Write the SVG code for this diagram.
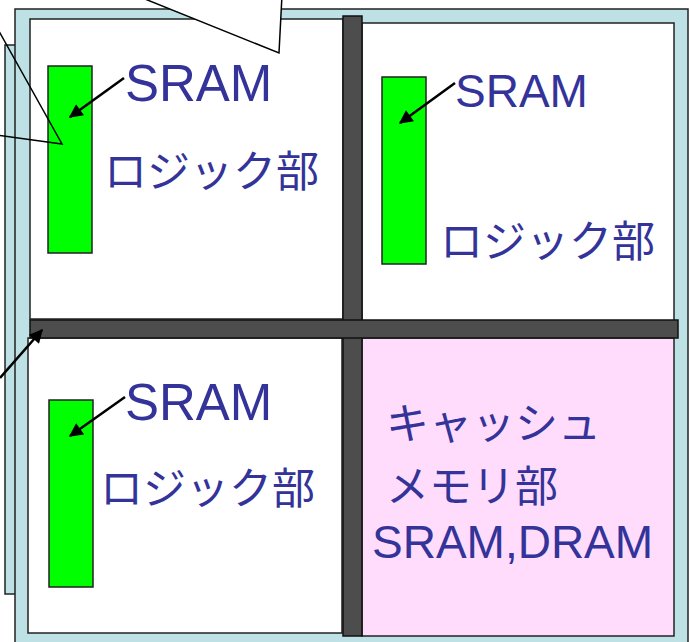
<svg xmlns="http://www.w3.org/2000/svg" width="690" height="642" viewBox="0 0 690 642">
<defs>
<style>
.chip{fill:#BDE1E4;stroke:#222;stroke-width:1.5}
.panel{fill:#FFFFFF;stroke:#222;stroke-width:1.5}
.pink{fill:#FFDCFC;stroke:#222;stroke-width:1.5}
.bar{fill:#4D4D4D;stroke:#111;stroke-width:1.5}
.sram{fill:#00FF00;stroke:#222;stroke-width:1.5}
.lbl{fill:#333399;font-family:"Liberation Sans","Noto Sans CJK JP",sans-serif}
.jp{fill:#333399;font-family:"Noto Sans CJK JP","Liberation Sans",sans-serif;font-size:43px}
.arr{stroke:#000;stroke-width:2.5;fill:none;marker-end:url(#ah)}
.call{stroke:#000;stroke-width:1.5;fill:none}
</style>
<marker id="ah" viewBox="0 0 10 10" refX="9" refY="5" markerWidth="6" markerHeight="5.5" orient="auto" markerUnits="strokeWidth">
<path d="M0,0 L10,5 L0,10 z" fill="#000"/>
</marker>
</defs>
<rect width="690" height="642" fill="#FFFFFF"/>
<g id="back-chip"><rect class="chip" x="5" y="45" width="20" height="549"/></g>
<g id="chip"><rect class="chip" x="15" y="9" width="673" height="645"/></g>
<g id="panel-tl"><rect class="panel" x="30" y="19" width="313" height="300"/></g>
<g id="panel-tr"><rect class="panel" x="362" y="23" width="312" height="298"/></g>
<g id="panel-bl"><rect class="panel" x="28" y="338" width="314" height="295"/></g>
<g id="panel-br"><rect class="pink" x="362" y="338" width="312" height="298"/></g>
<g id="bars">
<rect class="bar" x="343" y="16" width="19" height="620"/>
<rect class="bar" x="30" y="320" width="648" height="18"/>
</g>
<g id="sram-tl"><rect class="sram" x="48" y="66" width="44" height="187"/></g>
<g id="sram-tr"><rect class="sram" x="382" y="77" width="44" height="187"/></g>
<g id="sram-bl"><rect class="sram" x="49" y="400" width="44" height="187"/></g>
<g id="text-tl">
<text class="lbl" x="125" y="101" font-size="51">SRAM</text>
<text class="jp" x="104" y="187">ロジック部</text>
</g>
<g id="text-tr">
<text class="lbl" x="455" y="107" font-size="46">SRAM</text>
<text class="jp" x="440" y="257">ロジック部</text>
</g>
<g id="text-bl">
<text class="lbl" x="125" y="420" font-size="51">SRAM</text>
<text class="jp" x="100" y="504">ロジック部</text>
</g>
<g id="text-br">
<text class="jp" x="386" y="439">キャッシュ</text>
<text class="jp" x="386" y="502">メモリ部</text>
<text class="lbl" x="372" y="558" font-size="46">SRAM,DRAM</text>
</g>
<g id="callout-top">
<polygon points="135,-5 279,53 282,-5" fill="#FFFFFF" stroke="none"/>
<path class="call" d="M135,-5 L279,53 L282,-5"/>
</g>
<g id="connectors">
<path class="arr" d="M124,78 L70,117"/>
<path class="arr" d="M455,83 L400,123"/>
<path class="arr" d="M125,397 L70,436"/>
<path class="arr" d="M0,378 L42,330"/>
<path class="call" d="M-10,15 L62,144 L-10,134"/>
</g>
</svg>
